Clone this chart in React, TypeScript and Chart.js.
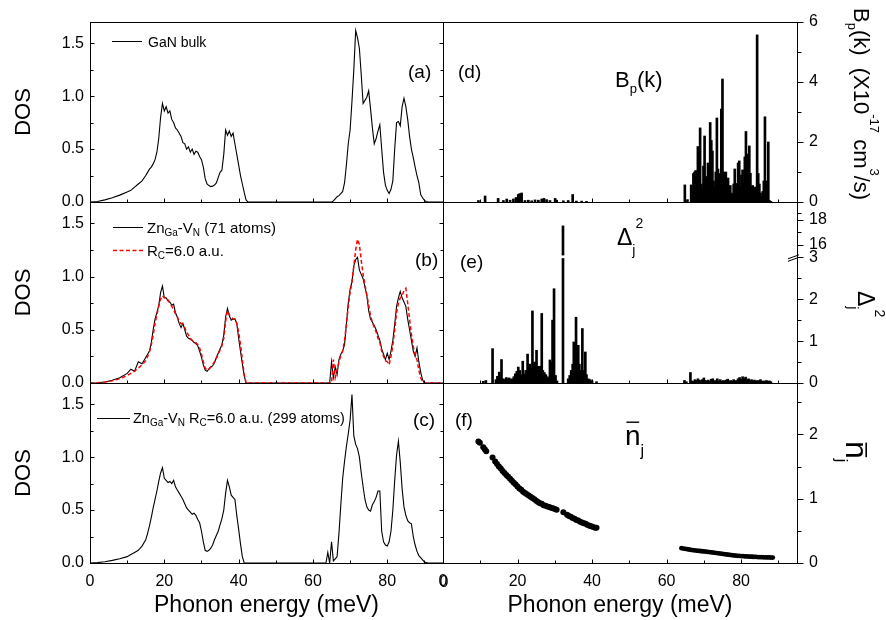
import React, { useEffect, useRef } from "react";
import { Chart, registerables } from "chart.js";

Chart.register(...registerables);

const FONT = "'Liberation Sans', Arial, Helvetica, sans-serif";
const W = 886;
const H = 620;

// ---------- DATA ----------
const dosEnergy = [
  0, 2, 4, 6, 8, 10, 11, 12, 13, 14, 15,
  15.5, 16, 16.5, 17, 17.5, 18, 18.5, 19, 19.5, 20,
  20.5, 21, 21.5, 22, 22.5, 23, 23.5, 24, 24.5, 25,
  25.5, 26, 26.5, 27, 27.5, 28, 28.5, 29, 29.5, 30,
  30.5, 31, 31.5, 32, 32.5, 33, 33.5, 34, 34.5, 35,
  35.5, 36, 36.5, 37, 37.5, 38, 38.5, 39, 39.5, 40,
  40.5, 41, 41.5, 42, 42.5, 43,
  45, 50, 55, 60, 62,
  63,
  63.5, 64, 64.5, 65, 65.5, 66, 66.5, 67, 67.5, 68,
  68.5, 69, 69.5, 70, 70.5, 71, 71.5, 72, 72.5, 73,
  73.5, 74, 74.5, 75, 75.5, 76, 76.5, 77, 77.5, 78,
  78.5, 79, 79.5, 80, 80.5, 81, 81.5, 82, 82.5, 83,
  83.5, 84, 84.5, 85, 85.5, 86, 86.5, 87, 87.5, 88,
  88.5, 89, 89.5, 90, 90.5, 91,
  92, 95,
];

const dosGaNBulk = [
  0, 0.005, 0.02, 0.04, 0.065, 0.095, 0.11, 0.14, 0.17, 0.2, 0.25,
  0.28, 0.31, 0.33, 0.36, 0.4, 0.47, 0.6, 0.8, 0.93, 0.86,
  0.9, 0.84, 0.86, 0.78, 0.75, 0.7, 0.68, 0.65, 0.62, 0.56,
  0.55, 0.5, 0.52, 0.47, 0.5, 0.45, 0.48, 0.47, 0.43, 0.4,
  0.33, 0.22, 0.17, 0.155, 0.145, 0.15, 0.16, 0.18, 0.23, 0.28,
  0.3, 0.45, 0.68, 0.63, 0.67, 0.62, 0.65, 0.55, 0.45, 0.35,
  0.25, 0.17, 0.09, 0.02, 0, 0,
  0, 0, 0, 0, 0,
  0,
  0, 0, 0, 0, 0.01, 0.03, 0.05, 0.06, 0.08, 0.1,
  0.18, 0.35, 0.55, 0.68, 0.95, 1.25, 1.62, 1.55, 1.45, 1.2,
  0.93, 0.96, 0.99, 1.05, 0.88, 0.7, 0.55, 0.6, 0.67, 0.73,
  0.5, 0.28, 0.16, 0.11, 0.08, 0.12, 0.2, 0.5, 0.75, 0.76,
  0.72, 0.9, 0.98, 0.9, 0.78, 0.62, 0.5, 0.42, 0.33, 0.25,
  0.18, 0.07, 0.04, 0.015, 0.005, 0,
  0, 0,
];

const dosZnVn71 = [
  0, 0.003, 0.01, 0.025, 0.05, 0.09, 0.13, 0.11, 0.2, 0.18, 0.24,
  0.27, 0.3, 0.38, 0.5, 0.6, 0.66, 0.73, 0.85, 0.91, 0.8,
  0.8, 0.77, 0.76, 0.73, 0.74, 0.66, 0.62, 0.56, 0.52, 0.56,
  0.5, 0.44, 0.42, 0.41, 0.4, 0.38, 0.37, 0.35, 0.3, 0.24,
  0.17, 0.12, 0.11, 0.13, 0.15, 0.16, 0.19, 0.24, 0.28, 0.32,
  0.36, 0.45, 0.62, 0.7, 0.63, 0.59, 0.6, 0.6, 0.56, 0.42,
  0.3, 0.18, 0.07, 0, 0, 0,
  0, 0, 0, 0, 0,
  0,
  0, 0, 0, 0.2, 0.05, 0.15, 0.08, 0.22, 0.27, 0.3,
  0.36, 0.55, 0.75, 0.88, 0.95, 1.1, 1.16, 1.18, 1.06, 1.02,
  0.98, 0.9, 0.82, 0.68, 0.6, 0.57, 0.54, 0.5, 0.45, 0.4,
  0.32, 0.27, 0.22, 0.28, 0.22, 0.3, 0.4, 0.55, 0.72, 0.8,
  0.86, 0.8, 0.76, 0.72, 0.6, 0.5, 0.4, 0.3, 0.25, 0.33,
  0.2, 0.1, 0.03, 0, 0, 0,
  0, 0,
];

const dosRc6 = [
  0, 0.002, 0.01, 0.02, 0.04, 0.07, 0.09, 0.11, 0.14, 0.17, 0.21,
  0.25, 0.29, 0.36, 0.45, 0.56, 0.64, 0.72, 0.79, 0.82, 0.8,
  0.8, 0.78, 0.75, 0.72, 0.69, 0.65, 0.62, 0.58, 0.56, 0.55,
  0.52, 0.48, 0.45, 0.42, 0.4, 0.39, 0.38, 0.36, 0.33, 0.27,
  0.2, 0.14, 0.12, 0.13, 0.15, 0.17, 0.2, 0.23, 0.27, 0.31,
  0.35, 0.42, 0.58, 0.68, 0.64, 0.62, 0.6, 0.6, 0.56, 0.48,
  0.36, 0.22, 0.08, 0, 0, 0,
  0, 0, 0, 0, 0,
  0,
  0, 0, 0, 0, 0.22, 0.05, 0.12, 0.2, 0.26, 0.3,
  0.4, 0.55, 0.72, 0.85, 0.95, 1.1, 1.25, 1.35, 1.3, 1.15,
  1.02, 0.92, 0.83, 0.73, 0.63, 0.57, 0.52, 0.48, 0.42, 0.38,
  0.3, 0.25, 0.21, 0.2, 0.17, 0.25, 0.35, 0.5, 0.66, 0.75,
  0.8, 0.82, 0.87, 0.89, 0.75, 0.6, 0.46, 0.34, 0.27, 0.22,
  0.12, 0.05, 0.01, 0, 0, 0,
  0, 0,
];

const dosZnVn299 = [
  0, 0.004, 0.012, 0.025, 0.04, 0.06, 0.08, 0.1, 0.12, 0.16, 0.22,
  0.28, 0.35, 0.43, 0.52, 0.6, 0.68, 0.77, 0.85, 0.9, 0.8,
  0.78, 0.76, 0.77, 0.75, 0.78, 0.72, 0.69, 0.66, 0.63, 0.6,
  0.56, 0.52, 0.5, 0.48, 0.46, 0.47, 0.45, 0.41, 0.38, 0.3,
  0.2, 0.12, 0.11, 0.12, 0.14, 0.17, 0.22, 0.26, 0.3, 0.36,
  0.42, 0.5, 0.66, 0.78, 0.72, 0.64, 0.62, 0.6, 0.45, 0.32,
  0.18, 0.06, 0, 0, 0, 0,
  0, 0, 0, 0, 0,
  0,
  0, 0.1, 0, 0.2, 0.02, 0.04, 0.06, 0.28, 0.55, 0.8,
  0.96, 1.1, 1.22, 1.35, 1.59, 1.2, 1.12, 1.08, 1.0, 0.85,
  0.72, 0.6, 0.53, 0.5, 0.49, 0.55, 0.58, 0.62, 0.68, 0.68,
  0.3, 0.2, 0.17, 0.16, 0.2, 0.3, 0.5, 0.78, 1.02, 1.15,
  0.95, 0.7, 0.53, 0.45, 0.4, 0.38, 0.37, 0.25, 0.17, 0.11,
  0.07, 0.05, 0.03, 0.01, 0.005, 0,
  0, 0,
];

// (d) B_p(k) per mode: [energy meV, value x1e-17]
const bpModes: [number, number][] = [
  [9.5, 0.05], [11.3, 0.2], [14.8, 0.12], [16.2, 0.05], [17.1, 0.1], [18, 0.06], [18.9, 0.1], [19.6, 0.15],
  [20.2, 0.25], [20.6, 0.28], [21.1, 0.3], [22, 0.05], [22.9, 0.06], [23.8, 0.04], [24.7, 0.07], [25.6, 0.06],
  [26.5, 0.1], [27.1, 0.12], [27.8, 0.08], [28.7, 0.05], [30.1, 0.12], [30.5, 0.06], [32.3, 0.04], [33.6, 0.05],
  [34.8, 0.25], [35.8, 0.03], [37.2, 0.03], [38.5, 0.02],
  [64.9, 0.57], [65.6, 0.08], [66.6, 0.57], [66.9, 0.35], [67.2, 0.95], [67.5, 1.0], [67.8, 1.05], [68.1, 0.6],
  [68.4, 1.85], [68.7, 0.5], [69.0, 2.47], [69.3, 0.6], [69.6, 0.45], [69.9, 1.2], [70.2, 2.2], [70.5, 0.85],
  [70.8, 0.5], [71.1, 1.3], [71.4, 0.6], [71.7, 2.65], [72.0, 2.05], [72.3, 1.7], [72.6, 0.7], [72.9, 0.5],
  [73.2, 1.0], [73.5, 2.8], [73.8, 1.1], [74.1, 0.95], [74.4, 0.6], [74.7, 3.1], [75.0, 4.1], [75.3, 1.0],
  [75.6, 0.95], [75.9, 1.0], [76.2, 0.7], [76.5, 0.8], [76.8, 0.4], [77.1, 0.55], [77.4, 0.3], [77.7, 0.25],
  [78.0, 0.6], [78.3, 1.1], [78.6, 0.4], [78.9, 0.62], [79.2, 1.3], [79.5, 1.37], [79.8, 0.5], [80.1, 0.9],
  [80.4, 1.07], [80.7, 0.6], [81.0, 1.5], [81.3, 2.35], [81.6, 1.2], [81.9, 1.6], [82.2, 1.87], [82.5, 0.96],
  [82.8, 0.5], [83.1, 0.55], [83.4, 0.4], [83.7, 0.5], [84.0, 0.3], [84.3, 5.57], [84.6, 0.95], [84.9, 0.6],
  [85.2, 0.3], [85.5, 0.2], [85.8, 0.35], [86.1, 0.7], [86.4, 2.84], [86.7, 0.7], [87.0, 0.4], [87.3, 2.0],
  [87.6, 0.05], [88.0, 0.02],
];

// (e) Delta_j^2 per mode
const deltaModes: [number, number][] = [
  [10.8, 0.04], [11.5, 0.06], [13.3, 0.82], [14.2, 0.08], [14.6, 0.16], [15.1, 0.26], [15.4, 0.12], [15.7, 0.56],
  [16.2, 0.1], [16.6, 0.08], [17.0, 0.13], [17.4, 0.1], [17.8, 0.12], [18.2, 0.08], [18.6, 0.1], [19.0, 0.15],
  [19.4, 0.22], [19.8, 0.28], [20.2, 0.38], [20.6, 0.3], [21.0, 0.2], [21.4, 0.52], [21.8, 0.22], [22.2, 0.3],
  [22.7, 0.69], [23.0, 0.4], [23.3, 0.45], [23.6, 0.35], [24.0, 1.72], [24.3, 0.45], [24.6, 0.5], [25.1, 0.78],
  [25.4, 0.4], [25.8, 0.35], [26.1, 0.4], [26.5, 1.66], [26.8, 0.3], [27.2, 0.25], [27.6, 0.2], [28.0, 0.15],
  [28.4, 0.12], [28.7, 0.55], [29.1, 0.5], [29.4, 1.5], [29.8, 2.25], [30.2, 0.18], [30.6, 0.05], [32.2, 17.5],
  [33.6, 0.1], [34.0, 0.18], [34.4, 0.3], [34.8, 0.45], [35.1, 0.98], [35.4, 0.9], [35.7, 1.57], [36.0, 0.6],
  [36.3, 0.9], [36.6, 0.45], [37.0, 0.3], [37.4, 1.3], [37.7, 0.3], [38.2, 0.74], [38.5, 0.2], [39.0, 0.1],
  [39.5, 0.08], [40.0, 0.05], [41.2, 0.03],
  [64.8, 0.06], [65.3, 0.03], [66.4, 0.25], [66.8, 0.05], [67.2, 0.04], [67.6, 0.08], [68.0, 0.06], [68.4, 0.1],
  [68.8, 0.07], [69.2, 0.05], [69.6, 0.08], [70.0, 0.12], [70.4, 0.06], [70.8, 0.05], [71.2, 0.07], [71.6, 0.04],
  [72.0, 0.09], [72.4, 0.1], [72.8, 0.05], [73.2, 0.06], [73.6, 0.1], [74.0, 0.05], [74.4, 0.08], [74.8, 0.04],
  [75.2, 0.06], [75.6, 0.05], [76.0, 0.07], [76.4, 0.09], [76.8, 0.05], [77.2, 0.06], [77.6, 0.04], [78.0, 0.08],
  [78.4, 0.05], [78.8, 0.06], [79.2, 0.1], [79.6, 0.13], [80.0, 0.08], [80.4, 0.15], [80.8, 0.1], [81.2, 0.14],
  [81.6, 0.08], [82.0, 0.1], [82.4, 0.06], [82.8, 0.08], [83.2, 0.05], [83.6, 0.07], [84.0, 0.04], [84.4, 0.06],
  [84.8, 0.05], [85.2, 0.08], [85.6, 0.04], [86.0, 0.05], [86.4, 0.03], [86.8, 0.06], [87.2, 0.04], [87.6, 0.05],
  [88.0, 0.03],
];

// (f) n_j occupation per mode, acoustic/low band and optical band
const nLowModes: [number, number][] = [
  [9.5, 1.89], [9.9, 1.87], [10.8, 1.8], [11.2, 1.77], [11.6, 1.74], [13.3, 1.64],
  [14.0, 1.58], [14.5, 1.54], [15.0, 1.5], [15.5, 1.47], [16.0, 1.43], [16.5, 1.4], [17.0, 1.37], [17.5, 1.34],
  [18.0, 1.31], [18.5, 1.28], [19.0, 1.25], [19.5, 1.22], [20.0, 1.19], [20.5, 1.16], [21.0, 1.14], [21.5, 1.11],
  [22.0, 1.09], [22.5, 1.07], [23.0, 1.05], [23.5, 1.03], [24.0, 1.01], [24.5, 0.99], [25.0, 0.97], [25.5, 0.95],
  [26.0, 0.93], [26.5, 0.92], [27.0, 0.9], [27.5, 0.89], [28.0, 0.88], [28.5, 0.87], [29.0, 0.86], [29.5, 0.85],
  [30.0, 0.84], [30.5, 0.83], [32.3, 0.79],
  [33.3, 0.75], [33.8, 0.73], [34.3, 0.72], [34.8, 0.7], [35.3, 0.69], [35.8, 0.67], [36.3, 0.66], [36.8, 0.64],
  [37.3, 0.63], [37.8, 0.62], [38.3, 0.61], [38.8, 0.59], [39.3, 0.58], [39.8, 0.57], [40.3, 0.56], [40.8, 0.55],
  [41.2, 0.55],
];
const nHighModes: [number, number][] = [
  [64.0, 0.23], [64.5, 0.225], [65.0, 0.22], [65.5, 0.215], [66.0, 0.21], [66.5, 0.205], [67.0, 0.2], [67.5, 0.197],
  [68.0, 0.193], [68.5, 0.19], [69.0, 0.187], [69.5, 0.183], [70.0, 0.18], [70.5, 0.177], [71.0, 0.173], [71.5, 0.17],
  [72.0, 0.166], [72.5, 0.162], [73.0, 0.158], [73.5, 0.154], [74.0, 0.15], [74.5, 0.146], [75.0, 0.142], [75.5, 0.138],
  [76.0, 0.134], [76.5, 0.13], [77.0, 0.126], [77.5, 0.122], [78.0, 0.118], [78.5, 0.115], [79.0, 0.112], [79.5, 0.11],
  [80.0, 0.108], [80.5, 0.106], [81.0, 0.104], [81.5, 0.102], [82.0, 0.1], [82.5, 0.098], [83.0, 0.097], [83.5, 0.095],
  [84.0, 0.094], [84.5, 0.092], [85.0, 0.091], [85.5, 0.09], [86.0, 0.089], [86.5, 0.088], [87.0, 0.087], [87.5, 0.086],
  [88.0, 0.085], [88.5, 0.085],
];

// ticks
const xLabelTicks = [0, 20, 40, 60, 80];
const xMinorTicks = [10, 30, 50, 70, 90];
const dosMajor = [0, 0.5, 1.0, 1.5];
const dosMinor = [0.25, 0.75, 1.25];
const bpTickLabels = [0, 2, 4, 6];
const bpMinor = [1, 3, 5];
const deltaTickLabels = [0, 1, 2, 3, 16, 18];
const deltaMinor = [0.5, 1.5, 2.5, 17, 18.5];
const nTickLabels = [0, 1, 2];
const nMinor = [0.5, 1.5, 2.5];

// broken axis for (e): 0..3 linear, then 15.. compressed
const BREAK_LOW = 3;
const BREAK_HIGH = 15;
const BREAK_SCALE = 0.3;
const brk = (v: number) => (v <= BREAK_LOW ? v : BREAK_LOW + (v - BREAK_HIGH) * BREAK_SCALE);

// ---------- LAYOUT ----------
const COL = [
  { l: 90, r: 443 },
  { l: 443, r: 797 },
];
const ROW = [
  { t: 22, b: 202 },
  { t: 202, b: 383 },
  { t: 383, b: 563 },
];

const tickFont = { family: FONT, size: 16 };

type Seg = { t: string; k?: "sub" | "sup" };
type RichOpt = { subSize?: number; subDy?: number; supSize?: number; supDy?: number; rot?: number };

function rich(ctx: CanvasRenderingContext2D, x: number, y: number, segs: Seg[], size: number, o: RichOpt = {}) {
  ctx.save();
  ctx.translate(x, y);
  if (o.rot) ctx.rotate(o.rot);
  ctx.textAlign = "left";
  ctx.textBaseline = "alphabetic";
  ctx.fillStyle = "#000";
  let cx = 0;
  for (const s of segs) {
    const fs = s.k === "sub" ? o.subSize ?? size * 0.6 : s.k === "sup" ? o.supSize ?? size * 0.6 : size;
    const dy = s.k === "sub" ? o.subDy ?? size * 0.25 : s.k === "sup" ? o.supDy ?? -size * 0.7 : 0;
    ctx.font = `${fs}px ${FONT}`;
    ctx.fillText(s.t, cx, dy);
    cx += ctx.measureText(s.t).width;
  }
  ctx.restore();
}

function nBar(ctx: CanvasRenderingContext2D, x: number, y: number, size: number, subSize: number, subDy: number, rot: number, barUp: number) {
  ctx.save();
  ctx.translate(x, y);
  if (rot) ctx.rotate(rot);
  ctx.fillStyle = "#000";
  ctx.textAlign = "left";
  ctx.textBaseline = "alphabetic";
  ctx.font = `${size}px ${FONT}`;
  ctx.fillText("n", 0, 0);
  const w = ctx.measureText("n").width;
  ctx.fillRect(size * 0.05, -barUp, w - size * 0.1, Math.max(1.3, size * 0.05));
  ctx.font = `${subSize}px ${FONT}`;
  ctx.fillText("j", w, subDy);
  ctx.restore();
}

function frame(ctx: CanvasRenderingContext2D, a: any) {
  ctx.strokeStyle = "#000";
  ctx.lineWidth = 1;
  ctx.strokeRect(a.left + 0.5, a.top + 0.5, a.right - a.left, a.bottom - a.top);
}

function yTicks(ctx: CanvasRenderingContext2D, chart: any, vals: number[], x: number, dir: number, len: number) {
  const sy = chart.scales.y;
  ctx.strokeStyle = "#000";
  ctx.lineWidth = 1;
  for (const v of vals) {
    const y = Math.round(sy.getPixelForValue(v)) + 0.5;
    ctx.beginPath();
    ctx.moveTo(x, y);
    ctx.lineTo(x + dir * len, y);
    ctx.stroke();
  }
}

function xTicks(ctx: CanvasRenderingContext2D, chart: any, vals: number[], y: number, len: number) {
  const sx = chart.scales.x;
  ctx.strokeStyle = "#000";
  ctx.lineWidth = 1;
  for (const v of vals) {
    const x = Math.round(sx.getPixelForValue(v)) + 0.5;
    ctx.beginPath();
    ctx.moveTo(x, y);
    ctx.lineTo(x, y - len);
    ctx.stroke();
  }
}

function label(ctx: CanvasRenderingContext2D, text: string, x: number, y: number, size: number, align: CanvasTextAlign = "left") {
  ctx.fillStyle = "#000";
  ctx.font = `${size}px ${FONT}`;
  ctx.textAlign = align;
  ctx.textBaseline = "alphabetic";
  ctx.fillText(text, x, y);
}

function legendLine(ctx: CanvasRenderingContext2D, x1: number, x2: number, y: number, color: string, dash: number[], width: number) {
  ctx.save();
  ctx.strokeStyle = color;
  ctx.lineWidth = width;
  ctx.setLineDash(dash);
  ctx.beginPath();
  ctx.moveTo(x1, y + 0.5);
  ctx.lineTo(x2, y + 0.5);
  ctx.stroke();
  ctx.restore();
}

function xScale(bottom: boolean) {
  return {
    type: "linear",
    min: 0,
    max: 95,
    offset: false,
    position: "bottom",
    display: bottom,
    grid: { display: false, drawTicks: false },
    border: { display: false },
    afterFit: (s: any) => {
      s.height = bottom ? H - ROW[2].b : 0;
    },
    afterBuildTicks: (s: any) => {
      s.ticks = xLabelTicks.map((v) => ({ value: v }));
    },
    ticks: {
      display: bottom,
      color: "#000",
      font: tickFont,
      padding: 9,
      autoSkip: false,
      maxRotation: 0,
      minRotation: 0,
      callback: (v: any) => String(v),
    },
    title: {
      display: bottom,
      text: "Phonon energy (meV)",
      color: "#000",
      font: { family: FONT, size: 23 },
      padding: { top: 0, bottom: 1 },
    },
  };
}

function leftY() {
  return {
    type: "linear",
    position: "left",
    min: 0,
    max: 1.7,
    grid: { display: false, drawTicks: false },
    border: { display: false },
    afterFit: (s: any) => {
      s.width = COL[0].l;
    },
    afterBuildTicks: (s: any) => {
      s.ticks = dosMajor.map((v) => ({ value: v }));
    },
    ticks: { color: "#000", font: tickFont, padding: 6, autoSkip: false, callback: (v: any) => Number(v).toFixed(1) },
    title: { display: true, text: "DOS", color: "#000", font: { family: FONT, size: 22 }, padding: { top: 11, bottom: 0 } },
  };
}

function rightY(max: number, vals: number[], labels: string[]) {
  return {
    type: "linear",
    position: "right",
    min: 0,
    max,
    grid: { display: false, drawTicks: false },
    border: { display: false },
    afterFit: (s: any) => {
      s.width = W - COL[1].r;
    },
    afterBuildTicks: (s: any) => {
      s.ticks = vals.map((v) => ({ value: v }));
    },
    ticks: { color: "#000", font: tickFont, padding: 12, autoSkip: false, callback: (_v: any, i: number) => labels[i] },
  };
}

function baseOptions(row: number, col: number, scales: any) {
  const bottom = row === 2;
  const padding =
    col === 0
      ? { left: 0, right: W - COL[0].r, top: ROW[row].t, bottom: bottom ? 0 : H - ROW[row].b }
      : { left: COL[1].l, right: 0, top: ROW[row].t, bottom: bottom ? 0 : H - ROW[row].b };
  return {
    animation: false,
    responsive: false,
    maintainAspectRatio: false,
    events: [],
    layout: { padding, autoPadding: false },
    plugins: { legend: { display: false }, tooltip: { enabled: false }, title: { display: false } },
    scales,
  };
}

function leftDeco(row: number, extra: (ctx: CanvasRenderingContext2D, chart: any) => void) {
  return {
    id: "deco" + row,
    afterDraw(chart: any) {
      const ctx = chart.ctx as CanvasRenderingContext2D;
      const a = chart.chartArea;
      ctx.save();
      frame(ctx, a);
      yTicks(ctx, chart, dosMajor, a.left + 0.5, 1, 4);
      yTicks(ctx, chart, dosMinor, a.left + 0.5, 1, 3);
      yTicks(ctx, chart, dosMajor, a.right + 0.5, -1, 4);
      yTicks(ctx, chart, dosMinor, a.right + 0.5, -1, 3);
      xTicks(ctx, chart, xLabelTicks, a.bottom + 0.5, 4);
      xTicks(ctx, chart, xMinorTicks, a.bottom + 0.5, 3);
      extra(ctx, chart);
      ctx.restore();
    },
  };
}

function rightDeco(row: number, major: number[], minor: number[], extra: (ctx: CanvasRenderingContext2D, chart: any) => void) {
  return {
    id: "rdeco" + row,
    afterDraw(chart: any) {
      const ctx = chart.ctx as CanvasRenderingContext2D;
      const a = chart.chartArea;
      ctx.save();
      extra(ctx, chart);
      frame(ctx, a);
      yTicks(ctx, chart, major, a.right + 0.5, 1, 6);
      yTicks(ctx, chart, minor, a.right + 0.5, 1, 4);
      xTicks(ctx, chart, xLabelTicks, a.bottom + 0.5, 4);
      xTicks(ctx, chart, xMinorTicks, a.bottom + 0.5, 3);
      ctx.restore();
    },
  };
}

const pts = (xs: number[], ys: number[]) => xs.map((x, i) => ({ x, y: ys[i] }));
const pairPts = (arr: [number, number][], f: (v: number) => number = (v) => v) => arr.map(([x, y]) => ({ x, y: f(y) }));

const lineDs = (data: any[], color = "#000", dash: number[] = [], width = 1.1) => ({
  type: "line",
  data,
  borderColor: color,
  borderWidth: width,
  borderDash: dash,
  pointRadius: 0,
  tension: 0,
  fill: false,
});

const subOpt = { subSize: 10, subDy: 2.5 };

function configA() {
  return {
    type: "line",
    data: { datasets: [lineDs(pts(dosEnergy, dosGaNBulk))] },
    options: baseOptions(0, 0, { x: xScale(false), y: leftY() }),
    plugins: [
      leftDeco(0, (ctx) => {
        legendLine(ctx, 112, 142, 41, "#000", [], 1);
        label(ctx, "GaN bulk", 148, 47, 14);
        label(ctx, "(a)", 408, 78, 19);
      }),
    ],
  };
}

function configB() {
  return {
    type: "line",
    data: {
      datasets: [
        lineDs(pts(dosEnergy, dosRc6), "#ff0000", [4, 2.5], 1.5),
        lineDs(pts(dosEnergy, dosZnVn71)),
      ],
    },
    options: baseOptions(1, 0, { x: xScale(false), y: leftY() }),
    plugins: [
      leftDeco(1, (ctx) => {
        legendLine(ctx, 113, 143, 227, "#000", [], 1);
        rich(ctx, 147, 233, [{ t: "Zn" }, { t: "Ga", k: "sub" }, { t: "-V" }, { t: "N", k: "sub" }, { t: " (71 atoms)" }], 15, subOpt);
        legendLine(ctx, 113, 143, 250, "#ff0000", [4, 2.5], 1.5);
        rich(ctx, 147, 256, [{ t: "R" }, { t: "C", k: "sub" }, { t: "=6.0 a.u." }], 15, subOpt);
        label(ctx, "(b)", 415, 266, 19);
      }),
    ],
  };
}

function configC() {
  return {
    type: "line",
    data: { datasets: [lineDs(pts(dosEnergy, dosZnVn299))] },
    options: baseOptions(2, 0, { x: xScale(true), y: leftY() }),
    plugins: [
      leftDeco(2, (ctx, chart) => {
        legendLine(ctx, 97, 130, 418, "#000", [], 1);
        rich(
          ctx,
          133,
          423,
          [{ t: "Zn" }, { t: "Ga", k: "sub" }, { t: "-V" }, { t: "N", k: "sub" }, { t: " R" }, { t: "C", k: "sub" }, { t: "=6.0 a.u. (299 atoms)" }],
          14.5,
          subOpt
        );
        label(ctx, "(c)", 413, 426, 19);
        // "0" label where the right-hand energy axis starts (at the panel joint)
        const a = chart.chartArea;
        ctx.fillStyle = "#000";
        ctx.font = `16px ${FONT}`;
        ctx.textAlign = "center";
        ctx.textBaseline = "alphabetic";
        ctx.fillText(String(xLabelTicks[0]), a.right + 1, a.bottom + 24);
      }),
    ],
  };
}

const barDs = (data: any[]) => ({
  type: "bar",
  data,
  backgroundColor: "#000",
  borderWidth: 0,
  barThickness: 2,
});

function configD() {
  return {
    type: "bar",
    data: { datasets: [barDs(pairPts(bpModes))] },
    options: baseOptions(0, 1, {
      x: xScale(false),
      y: rightY(6, bpTickLabels, bpTickLabels.map(String)),
    }),
    plugins: [
      rightDeco(0, bpTickLabels, bpMinor, (ctx) => {
        label(ctx, "(d)", 458, 78, 19);
        rich(ctx, 615, 87, [{ t: "B" }, { t: "p", k: "sub" }, { t: "(k)" }], 22, { subSize: 13, subDy: 6 });
        rich(
          ctx,
          854,
          8,
          [{ t: "B" }, { t: "p", k: "sub" }, { t: "(k)  (X10" }, { t: "-17", k: "sup" }, { t: " cm" }, { t: "3", k: "sup" }, { t: "/s)" }],
          22,
          { subSize: 13, subDy: 6, supSize: 13, supDy: -16, rot: Math.PI / 2 }
        );
      }),
    ],
  };
}

function configE() {
  const major = deltaTickLabels.map(brk);
  const minor = deltaMinor.map(brk);
  return {
    type: "bar",
    data: { datasets: [barDs(pairPts(deltaModes, brk))] },
    options: baseOptions(1, 1, {
      x: xScale(false),
      y: rightY(brk(19.4), major, deltaTickLabels.map(String)),
    }),
    plugins: [
      rightDeco(1, major, minor, (ctx, chart) => {
        const a = chart.chartArea;
        const sy = chart.scales.y;
        // axis break gap
        const y1 = sy.getPixelForValue(BREAK_LOW + 0.045);
        const y2 = sy.getPixelForValue(BREAK_LOW - 0.02);
        ctx.fillStyle = "#fff";
        ctx.fillRect(a.left + 1, y1, a.right - a.left - 2, y2 - y1);
        // break mark on right axis
        const yb = sy.getPixelForValue(BREAK_LOW);
        ctx.strokeStyle = "#000";
        ctx.lineWidth = 1;
        ctx.beginPath();
        ctx.moveTo(a.right - 9, yb + 1.5);
        ctx.lineTo(a.right + 2, yb - 2.5);
        ctx.moveTo(a.right - 9, yb + 4);
        ctx.lineTo(a.right + 2, yb);
        ctx.stroke();
        label(ctx, "(e)", 460, 268, 19);
        rich(ctx, 617, 245, [{ t: "Δ" }, { t: "j", k: "sub" }, { t: "2", k: "sup" }], 23, { subSize: 14, subDy: 10, supSize: 14, supDy: -17 });
        rich(ctx, 858, 291, [{ t: "Δ" }, { t: "j", k: "sub" }, { t: "2", k: "sup" }], 23, {
          subSize: 14,
          subDy: 10,
          supSize: 14,
          supDy: -17,
          rot: Math.PI / 2,
        });
      }),
    ],
  };
}

function configF() {
  const dotDs = (data: any[], r: number) => ({
    type: "line",
    data,
    showLine: false,
    pointRadius: r,
    pointStyle: "circle",
    pointBackgroundColor: "#000",
    pointBorderColor: "#000",
    pointBorderWidth: 0,
    borderWidth: 0,
  });
  return {
    type: "line",
    data: {
      datasets: [dotDs(pairPts(nLowModes), 3), dotDs(pairPts(nHighModes), 2.4)],
    },
    options: baseOptions(2, 1, {
      x: xScale(true),
      y: rightY(2.8, nTickLabels, nTickLabels.map(String)),
    }),
    plugins: [
      rightDeco(2, nTickLabels, nMinor, (ctx) => {
        label(ctx, "(f)", 455, 426, 19);
        nBar(ctx, 625, 445, 28, 16, 11, 0, 23.5);
        nBar(ctx, 846, 441, 32, 16, 10, Math.PI / 2, 21);
      }),
    ],
  };
}

function Panel({ make }: { make: () => any }) {
  const ref = useRef<HTMLCanvasElement | null>(null);
  useEffect(() => {
    if (!ref.current) return;
    const chart = new Chart(ref.current, make());
    return () => chart.destroy();
  }, [make]);
  return (
    <canvas
      ref={ref}
      width={W}
      height={H}
      style={{ position: "absolute", left: 0, top: 0, width: W, height: H, pointerEvents: "none" }}
    />
  );
}

const makers = [configA, configB, configC, configD, configE, configF];

export default function App() {
  return (
    <div style={{ position: "fixed", left: 0, top: 0, width: W, height: H, background: "#fff", overflow: "hidden" }}>
      {makers.map((m, i) => (
        <Panel key={i} make={m} />
      ))}
    </div>
  );
}
